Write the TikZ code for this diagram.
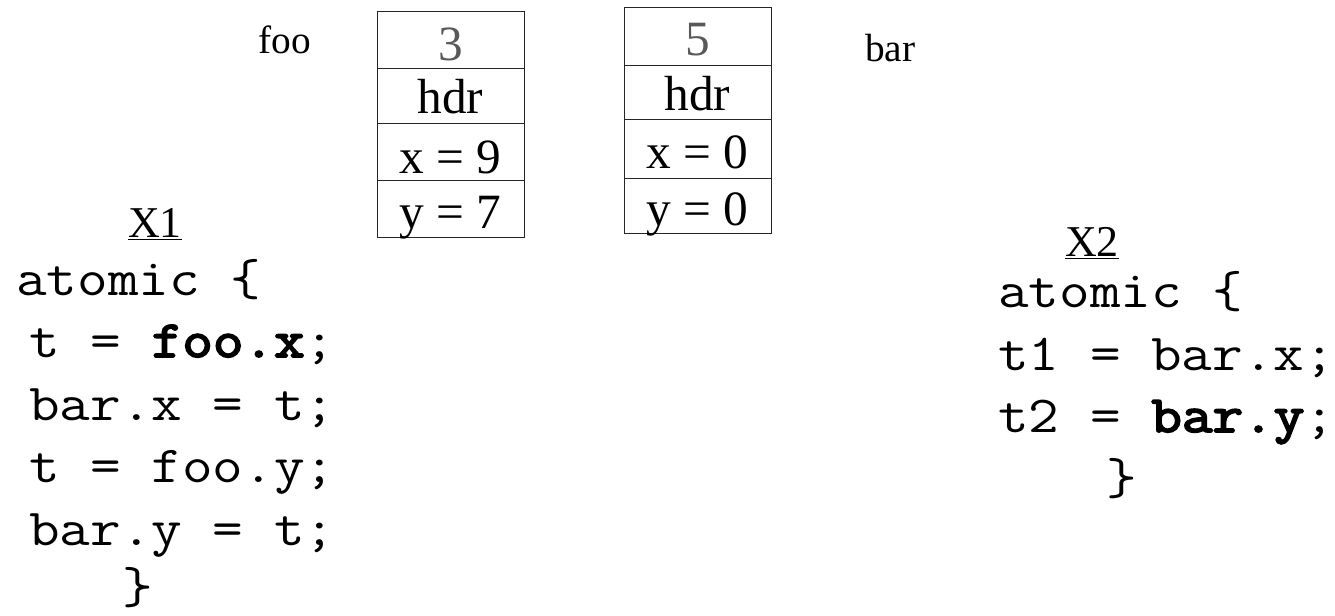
\documentclass[tikz,border=0pt]{standalone}
\usepackage{fontspec}
\setmainfont{Liberation Serif}
\newfontfamily\codefont{Latin Modern Mono}[FakeStretch=1.143]
\newfontfamily\codebold{Latin Modern Mono}[FakeStretch=1.143, FakeBold=3.5]
\usetikzlibrary{fit}
\begin{document}
\begin{tikzpicture}[x=0.75pt,y=-0.75pt,
  cell/.style={draw=black!85, line width=0.7pt, inner sep=0pt},
  val/.style={anchor=base, inner sep=0pt, font=\fontsize{37}{38}\selectfont},
  lbl/.style={anchor=base west, inner sep=0pt, font=\fontsize{29.5}{30}\selectfont},
  code/.style={anchor=base west, inner sep=0pt, font=\codefont\fontsize{39}{40}\selectfont},
  head/.style={anchor=base, inner sep=0pt, font=\fontsize{33}{34}\selectfont}]
\useasboundingbox (0,0) rectangle (1335,615);
% foo object
\node[cell, fit={(377,11) (524,68)}] (f3) {};
\node[cell, fit={(377,68) (524,123)}] (fh) {};
\node[cell, fit={(377,123) (524,180)}] (fx) {};
\node[cell, fit={(377,180) (524,237)}] (fy) {};
\node[val, text=black!65] (t3) at (450.5,60) {3};
\node[val] (tfh) at (450.5,113) {hdr};
\node[val] (tfx) at (450.5,173) {x = 9};
\node[val] (tfy) at (450.5,228) {y = 7};
% bar object
\node[cell, fit={(624,7) (771,65)}] (b5) {};
\node[cell, fit={(624,65) (771,119)}] (bh) {};
\node[cell, fit={(624,119) (771,178)}] (bx) {};
\node[cell, fit={(624,178) (771,233)}] (by) {};
\node[val, text=black!65] (t5) at (697.5,55) {5};
\node[val] (tbh) at (697.5,110) {hdr};
\node[val] (tbx) at (697.5,168) {x = 0};
\node[val] (tby) at (697.5,225) {y = 0};
% labels
\node[lbl] (foo) at (258,53) {foo};
\node[lbl] (bar) at (865,61) {bar};
% X1
\node[head] (x1) at (155,237) {\underline{X1}};
\node[code] (a1) at (16,295) {atomic \{};
\node[code] (l1) at (29,357) {t = {\codebold foo.x};};
\node[code] (l2) at (29,420) {bar.x = t;};
\node[code] (l3) at (29,482) {t = foo.y;};
\node[code] (l4) at (29,545) {bar.y = t;};
\node[code] (c1) at (122,603) {\}};
% X2
\node[head] (x2) at (1092,256) {\underline{X2}};
\node[code] (a2) at (998,307) {atomic \{};
\node[code] (m1) at (998,370) {t1 = bar.x;};
\node[code] (m2) at (998,432) {t2 = {\codebold bar.y};};
\node[code] (c2) at (1106,494) {\}};
\end{tikzpicture}
\end{document}
